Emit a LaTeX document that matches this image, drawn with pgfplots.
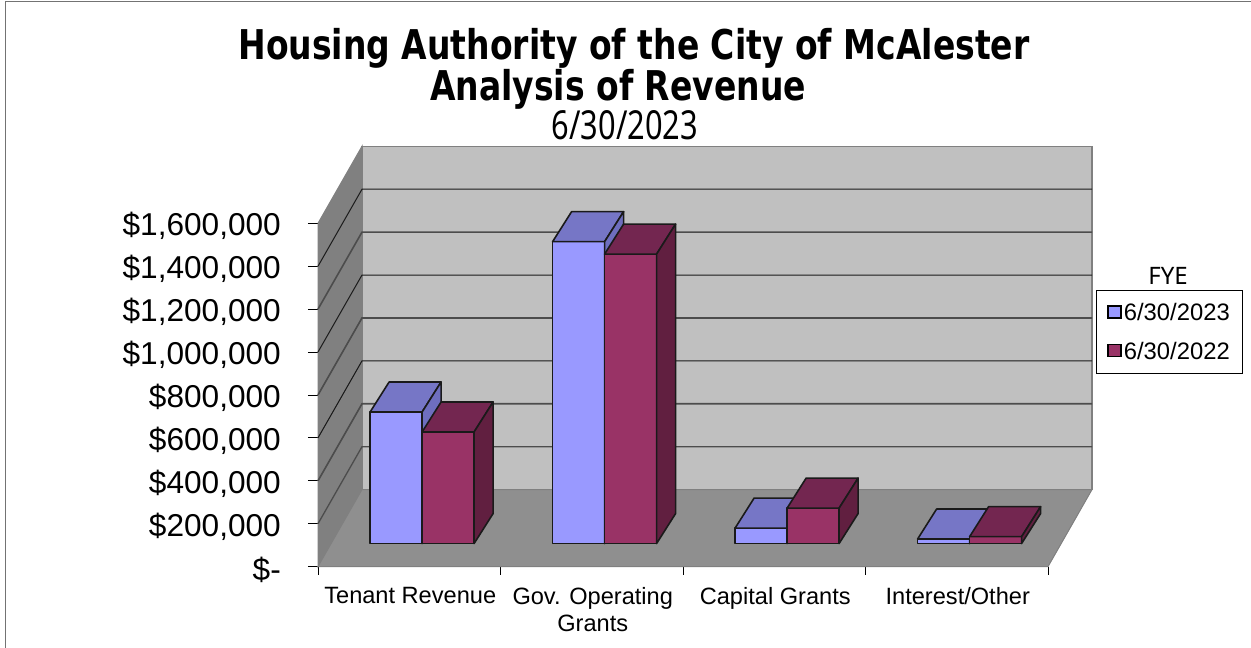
\documentclass[border=0pt]{standalone}
\usepackage{pgfplots}
\pgfplotsset{compat=1.18}
\usepackage{fontspec}
\setmainfont{Liberation Sans}
\newfontfamily\titlefont[FakeStretch=0.805]{DejaVu Sans Bold}
\newfontfamily\narrowfont[FakeStretch=0.77]{Noto Sans}
\newfontfamily\plainfont{Noto Sans}
\definecolor{barblue}{HTML}{9999FF}
\definecolor{barbluetop}{HTML}{7676C6}
\definecolor{barblueside}{HTML}{6E6EBE}
\definecolor{barred}{HTML}{993366}
\definecolor{barredtop}{HTML}{732650}
\definecolor{barredside}{HTML}{611F40}
\definecolor{wallback}{HTML}{C0C0C0}
\definecolor{wallside}{HTML}{808080}
\definecolor{wallfloor}{HTML}{8F8F8F}
\definecolor{edge}{HTML}{1A1A1A}

% One 3D column: slot left edge (categories), value (thousands of dollars), three face colours.
\newcommand{\revenuebar}[5]{%
  \pgfmathsetmacro\xa{#1}%
  \pgfmathsetmacro\xb{#1+0.2849}%
  \pgfmathsetmacro\xc{#1+0.1041}%
  \pgfmathsetmacro\xd{#1+0.3890}%
  \pgfmathsetmacro\yb{107.5}%
  \pgfmathsetmacro\yt{107.5+#2}%
  \pgfmathsetmacro\ybb{107.5+139.8}%
  \pgfmathsetmacro\ytb{107.5+#2+139.8}%
  \addplot[forget plot,fill=#3,draw=edge,line width=1.6pt,line join=round] coordinates {(\xa,\yb)(\xb,\yb)(\xb,\yt)(\xa,\yt)} --cycle;
  \addplot[forget plot,fill=#4,draw=edge,line width=1.6pt,line join=round] coordinates {(\xa,\yt)(\xb,\yt)(\xd,\ytb)(\xc,\ytb)} --cycle;
  \addplot[forget plot,fill=#5,draw=edge,line width=1.6pt,line join=round] coordinates {(\xb,\yb)(\xd,\ybb)(\xd,\ytb)(\xb,\yt)} --cycle;
}
% One gridline running along the side wall and the back wall.
\newcommand{\gridrow}[3]{%
  \pgfmathsetmacro\yf{#1}%
  \pgfmathsetmacro\yk{#1+358.9}%
  \addplot[forget plot,draw=#2,line width=#3] coordinates {(0,\yf)(0.2411,\yk)(4.2411,\yk)};
}

\begin{document}
\begin{tikzpicture}[x=1pt,y=1pt]
\path[use as bounding box] (0,0) rectangle (1251,-648);
\draw[color=gray!90!black,line width=1.2pt] (5.5,-648) -- (5.5,-1.5) -- (1251,-1.5);
\begin{axis}[
  at={(318pt,-566.6pt)},anchor=origin,
  scale only axis,width=730pt,height=343.3pt,
  xmin=0,xmax=4,ymin=0,ymax=1600,clip=false,
  axis x line=bottom,axis y line=left,
  axis line style={draw=black,line width=0.9pt,-},
  tick align=outside,
  major tick length=10pt,
  minor tick length=8pt,
  y tick style={black,line width=0.9pt},
  ytick={0,200,...,1600},
  yticklabels={{\$-\hspace{18pt}},{\$200,000},{\$400,000},{\$600,000},{\$800,000},{\$1,000,000},{\$1,200,000},{\$1,400,000},{\$1,600,000}},
  yticklabel style={font=\fontsize{31.6}{31.6}\selectfont,anchor=east,inner sep=0pt,xshift=-27pt,yshift=-3pt},
  xtick={0.5,1.5,2.5,3.5},
  minor xtick={0,1,2,3,4},
  major x tick style={draw=none},
  minor x tick style={black,line width=0.9pt},
  xticklabels={{Tenant Revenue},{Gov. Operating\\Grants},{Capital Grants},{Interest/Other}},
  xticklabel style={font=\fontsize{23.6}{27}\selectfont,align=center,anchor=north,yshift=-7pt,xshift=1pt},
  legend style={at={(1.0653,0.806)},anchor=north west,draw=black,line width=0.8pt,
    font=\fontsize{23.8}{27}\selectfont,inner xsep=11pt,inner ysep=11pt,row sep=16pt,
    legend cell align=left},
]
% walls and floor
\addplot[forget plot,fill=wallback,draw=wallside,line width=1.2pt] coordinates {(0.2411,358.9)(4.2411,358.9)(4.2411,1958.9)(0.2411,1958.9)} --cycle;
\addplot[forget plot,fill=wallside,draw=wallside,line width=1pt] coordinates {(0,0)(0.2411,358.9)(0.2411,1958.9)(0,1600)} --cycle;
\addplot[forget plot,fill=wallfloor,draw=wallside,line width=1pt] coordinates {(0,0)(4,0)(4.2411,358.9)(0.2411,358.9)} --cycle;
% gridlines
\gridrow{1400}{edge}{1pt}
\gridrow{1200}{black!70}{1.6pt}
\gridrow{1000}{edge}{1pt}
\gridrow{800}{black!70}{1.6pt}
\gridrow{600}{edge}{1pt}
\gridrow{400}{black!70}{1.6pt}
\gridrow{200}{black!70}{1.3pt}
% columns
\revenuebar{0.2855}{613}{barblue}{barbluetop}{barblueside}
\revenuebar{0.5704}{520}{barred}{barredtop}{barredside}
\revenuebar{1.2855}{1407}{barblue}{barbluetop}{barblueside}
\revenuebar{1.5704}{1349}{barred}{barredtop}{barredside}
\revenuebar{2.2855}{72}{barblue}{barbluetop}{barblueside}
\revenuebar{2.5704}{165}{barred}{barredtop}{barredside}
\revenuebar{3.2855}{21}{barblue}{barbluetop}{barblueside}
\revenuebar{3.5704}{32}{barred}{barredtop}{barredside}
% legend
\addlegendimage{legend image code/.code={\draw[fill=barblue,draw=black,line width=1.8pt] (0pt,-5pt) rectangle (13pt,7pt);}}
\addlegendentry{6/30/2023}
\addlegendimage{legend image code/.code={\draw[fill=barred,draw=black,line width=1.8pt] (0pt,-5pt) rectangle (13pt,7pt);}}
\addlegendentry{6/30/2022}
\end{axis}
\node[anchor=base,inner sep=0pt] at (634,-59) {\titlefont\fontsize{41}{41}\selectfont Housing Authority of the City of McAlester};
\node[anchor=base,inner sep=0pt] at (618,-100) {\titlefont\fontsize{41}{41}\selectfont Analysis of Revenue};
\node[anchor=base,inner sep=0pt] at (625,-139) {\narrowfont\fontsize{40}{40}\selectfont 6/30/2023};
\node[anchor=base,inner sep=0pt] at (1168,-284) {\plainfont\fontsize{24}{24}\selectfont FYE};
\end{tikzpicture}
\end{document}
